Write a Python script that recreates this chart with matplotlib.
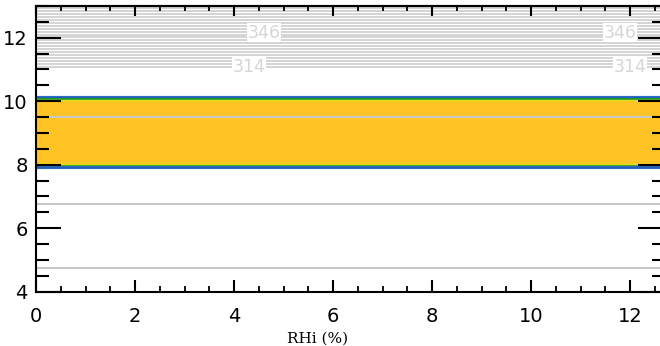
import matplotlib
matplotlib.use("Agg")
import matplotlib.pyplot as plt
import numpy as np

# ---- data ----
x_range = [0.0, 12.6]
# upper contour lines (altitude, km)
upper_levels = [11.09, 11.18, 11.27, 11.36, 11.46, 11.55, 11.64, 11.73, 11.82, 11.92,
                12.01, 12.10, 12.19, 12.28, 12.37, 12.46, 12.56, 12.65, 12.74, 12.84, 12.93]
contour_labels = ["346", "314"]
label_heights = [12.16, 11.09]
label_x = [[4.6, 11.8], [4.3, 12.0]]
# other isolated contour lines
lower_levels = [9.49, 6.77, 4.76]
# filled band (altitude bounds)
band_bottom = 7.93
band_top = 10.14
xticks = [0, 2, 4, 6, 8, 10, 12]
yticks = [4, 6, 8, 10, 12]
xlabel = "RHi (%)"

fig = plt.figure(figsize=(6.6, 3.46), dpi=100)
ax = fig.add_axes([36/660, 54.3/346, 623.7/660, (291.7-6)/346])
ax.set_xlim(*x_range)
ax.set_ylim(4, 13.0)
ax.set_axisbelow(False)

xs = np.array(x_range)
# band
ax.fill_between(xs, band_bottom, band_top, color="#FFC424", zorder=0.5, lw=0)
for yb, s in [(band_top, 1), (band_bottom, -1)]:
    ax.plot(xs, [yb + s*0.025]*2, color="#9EC5F0", lw=1.0, zorder=0.8)
    ax.plot(xs, [yb]*2, color="#1F5FC0", lw=2.0, zorder=0.9)
    ax.plot(xs, [yb - s*0.055]*2, color="#1E9A2A", lw=1.4, zorder=0.9)
    ax.plot(xs, [yb - s*0.09]*2, color="#D9E01A", lw=1.0, zorder=0.9)

for h in lower_levels:
    ax.plot(xs, [h, h], color="#C8C8C8", lw=1.5, zorder=1)
for h in upper_levels:
    ax.plot(xs, [h, h], color="#CDCDCD", lw=1.2, zorder=1)

for lab, h, xl in zip(contour_labels, label_heights, label_x):
    for xv in xl:
        ax.text(xv, h, lab, color="#D6D6D6", fontsize=12.5, ha="center", va="center",
                zorder=1.5, bbox=dict(facecolor="white", edgecolor="none", pad=0.3))

# axes styling
for sp in ax.spines.values():
    sp.set_linewidth(1.5)
ax.spines["right"].set_visible(False)

ax.set_xticks(xticks)
ax.set_yticks(yticks)
ax.set_xticks(np.arange(0, 12.6, 0.5), minor=True)
ax.set_yticks(np.arange(4, 13.01, 0.5), minor=True)
ax.tick_params(axis="x", which="major", direction="in", length=8.6, width=1.5,
               labelsize=14, pad=11, top=False)
ax.tick_params(axis="x", which="minor", direction="in", length=4.3, width=1.3, top=False)
ax.tick_params(axis="y", which="major", direction="in", length=18, width=1.5,
               labelsize=14, pad=6, right=False)
ax.tick_params(axis="y", which="minor", direction="in", length=9.4, width=1.5, right=False)

top = ax.secondary_xaxis("top")
top.set_zorder(10)
top.set_xticks(xticks)
top.set_xticks(np.arange(0, 12.6, 0.5), minor=True)
top.tick_params(which="major", direction="in", length=7.2, width=1.5, labeltop=False)
top.tick_params(which="minor", direction="in", length=3.6, width=1.3)
top.spines["top"].set_linewidth(1.5)

right = ax.secondary_yaxis("right")
right.set_zorder(10)
right.set_yticks(yticks)
right.set_yticks(np.arange(4, 13.01, 0.5), minor=True)
right.tick_params(which="major", direction="in", length=16, width=1.5, labelright=False)
right.tick_params(which="minor", direction="in", length=5.8, width=1.5)
right.spines["right"].set_visible(False)

ax.set_xlabel(xlabel, family="DejaVu Serif", fontsize=11)
ax.xaxis.set_label_coords((318-36)/623.7, -0.14)

fig.savefig("out.png", dpi=100)
